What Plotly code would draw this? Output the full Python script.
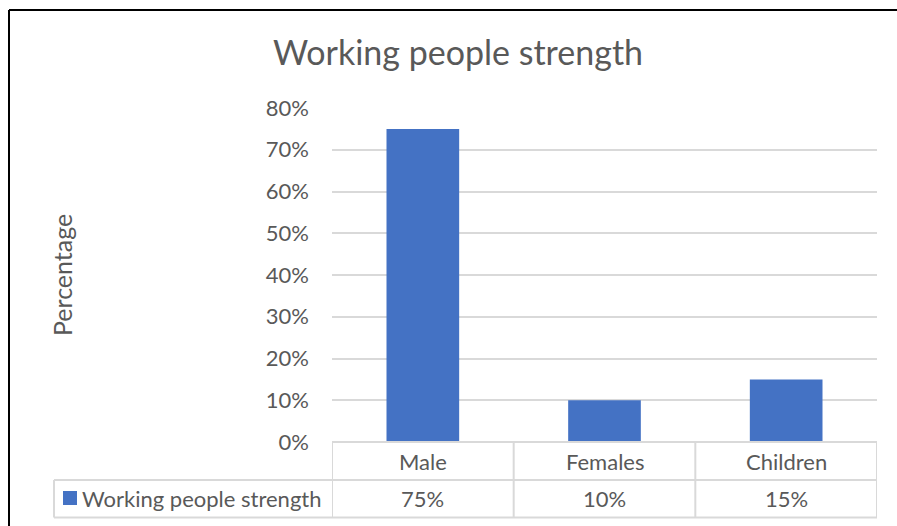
import plotly.graph_objects as go

categories = ["Male", "Females", "Children"]
values = [0.75, 0.10, 0.15]
value_labels = ["75%", "10%", "15%"]
series_name = "Working people strength"
title_text = "Working people strength"
y_title = "Percentage"
y_ticks = [0, 0.1, 0.2, 0.3, 0.4, 0.5, 0.6, 0.7, 0.8]

BLUE = "#4472C4"
GRAY_TXT = "#595959"
GRID = "#d9d9d9"
FONT = "Lato"
TXT = 22

W_FIG, H_FIG = 897, 526
L, R, T, B = 332, 877, 108, 442
PW, PH = R - L, B - T


def px(x):
    return (x - L) / PW


def py(y):
    return (B - y) / PH


fig = go.Figure()
fig.add_trace(go.Bar(x=categories, y=values, marker=dict(color=BLUE, line=dict(width=0)),
                     name=series_name, showlegend=False))

shapes = []
# outer border (black, left and top)
shapes.append(dict(type="line", xref="paper", yref="paper", x0=px(9), x1=px(900), y0=py(10), y1=py(10),
                   line=dict(color="black", width=2)))
shapes.append(dict(type="line", xref="paper", yref="paper", x0=px(9), x1=px(9), y0=py(10), y1=py(530),
                   line=dict(color="black", width=2)))

row1, row2, row3 = 442, 480, 517.5
tl = dict(color=GRID, width=2)
n = len(categories)
# horizontal table lines
shapes.append(dict(type="line", xref="x", yref="paper", x0=-0.5, x1=n - 0.5, y0=py(row1), y1=py(row1), line=tl))
for yy in (row2, row3):
    shapes.append(dict(type="line", xref="paper", yref="paper", x0=px(54), x1=1, y0=py(yy), y1=py(yy), line=tl))
# vertical table lines at category boundaries
for i in range(n + 1):
    shapes.append(dict(type="line", xref="x", yref="paper", x0=i - 0.5, x1=i - 0.5, y0=py(row1), y1=py(row3), line=tl))
shapes.append(dict(type="line", xref="paper", yref="paper", x0=px(54), x1=px(54), y0=py(row2), y1=py(row3), line=tl))
# legend key square
shapes.append(dict(type="rect", xref="paper", yref="paper", x0=px(63), x1=px(77), y0=py(491), y1=py(505),
                   fillcolor=BLUE, line=dict(width=0)))

annotations = []
for c, v in zip(categories, value_labels):
    annotations.append(dict(x=c, xref="x", y=py((row1 + row2) / 2), yref="paper", text=c, showarrow=False,
                            font=dict(family=FONT, size=TXT, color=GRAY_TXT), xanchor="center", yanchor="middle"))
    annotations.append(dict(x=c, xref="x", y=py((row2 + row3) / 2), yref="paper", text=v, showarrow=False,
                            font=dict(family=FONT, size=TXT, color=GRAY_TXT), xanchor="center", yanchor="middle"))
annotations.append(dict(x=px(80), xref="paper", y=py((row2 + row3) / 2), yref="paper", text=series_name,
                        showarrow=False, font=dict(family=FONT, size=TXT, color=GRAY_TXT),
                        xanchor="left", yanchor="middle"))
annotations.append(dict(x=px(62), xref="paper", y=py(275), yref="paper", text=y_title, textangle=-90,
                        showarrow=False, font=dict(family=FONT, size=25, color=GRAY_TXT),
                        xanchor="center", yanchor="middle"))

fig.update_layout(
    width=W_FIG, height=H_FIG,
    margin=dict(l=L, r=W_FIG - R, t=T, b=H_FIG - B),
    paper_bgcolor="white", plot_bgcolor="white",
    title=dict(text=title_text, x=(272 + 644) / 2 / W_FIG, xanchor="center", y=1 - 53 / H_FIG, yanchor="middle",
               font=dict(family=FONT, size=34, color=GRAY_TXT)),
    bargap=0.6,
    xaxis=dict(range=[-0.5, n - 0.5], showticklabels=False, showgrid=False, zeroline=False, showline=False,
               ticks=""),
    yaxis=dict(range=[0, 0.8], tickvals=y_ticks, tickformat=".0%", showgrid=True, gridcolor=GRID, gridwidth=1.5,
               zeroline=False, showline=False, ticks="", ticklabelstandoff=22,
               tickfont=dict(family=FONT, size=TXT, color=GRAY_TXT)),
    shapes=shapes, annotations=annotations,
    showlegend=False,
)

fig.write_html("out.html")
